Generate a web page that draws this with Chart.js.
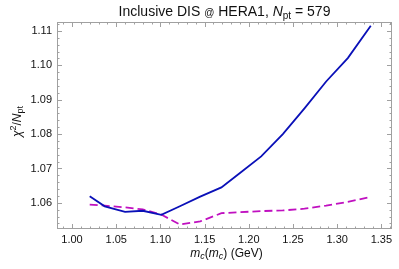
<!DOCTYPE html>
<html>
<head>
<meta charset="utf-8">
<script src="https://cdn.jsdelivr.net/npm/chart.js@4"></script>
<style>
  html, body { margin: 0; padding: 0; background: #fff; }
  #wrap { width: 399px; height: 269px; }
</style>
</head>
<body>
<div id="wrap"><canvas id="myChart" width="399" height="269"></canvas></div>
<script>
// m_c(m_c) values (GeV)
const masses = [1.020, 1.037, 1.060, 1.080, 1.101, 1.122, 1.145, 1.169, 1.190, 1.214, 1.2385, 1.263, 1.2875, 1.312, 1.338];
// chi2 / Npt, solid blue curve
const chi2Blue = [1.0619, 1.0590, 1.0574, 1.0577, 1.0565, 1.0590, 1.0618, 1.0645, 1.0687, 1.0735, 1.0800, 1.0875, 1.0953, 1.1021, 1.1115];
// chi2 / Npt, dashed magenta curve
const chi2Magenta = [1.0595, 1.0592, 1.0587, 1.0581, 1.0566, 1.0537, 1.0546, 1.0570, 1.0573, 1.0576, 1.0578, 1.0583, 1.0592, 1.0603, 1.0617];

const xTicks = [1.00, 1.05, 1.10, 1.15, 1.20, 1.25, 1.30, 1.35];
const yTicks = [1.06, 1.07, 1.08, 1.09, 1.10, 1.11];

const FONT = "'Liberation Sans', Arial, sans-serif";

// draw text made of several runs (normal / italic / subscript)
function drawRuns(ctx, runs, x, y, align) {
  let total = 0;
  runs.forEach(r => { ctx.font = r.font; r.w = ctx.measureText(r.t).width; total += r.w; });
  let cx = align === 'center' ? x - total / 2 : x;
  ctx.textBaseline = 'alphabetic';
  ctx.textAlign = 'left';
  runs.forEach(r => {
    ctx.font = r.font;
    ctx.fillText(r.t, cx, y + (r.dy || 0));
    cx += r.w;
  });
}

const framePlugin = {
  id: 'frame',
  afterDatasetsDraw(chart) {
    const { ctx, chartArea: a, scales } = chart;
    const xs = scales.x, ys = scales.y;
    ctx.save();
    ctx.strokeStyle = '#a0a0a0';
    ctx.lineWidth = 1;
    ctx.strokeRect(a.left + 0.5, a.top + 0.5, a.right - a.left - 1, a.bottom - a.top - 1);
    ctx.beginPath();
    // x ticks, inward on bottom and top
    for (let i = 99; i <= 136; i++) {
      const v = i / 100;
      const px = Math.round(xs.getPixelForValue(v)) + 0.5;
      const len = (i % 5 === 0) ? 5 : 2.5;
      ctx.moveTo(px, a.bottom); ctx.lineTo(px, a.bottom - len);
      ctx.moveTo(px, a.top); ctx.lineTo(px, a.top + len);
    }
    // y ticks, inward on left and right
    for (let i = 1054; i <= 1112; i += 2) {
      const v = i / 1000;
      const py = Math.round(ys.getPixelForValue(v)) + 0.5;
      const len = (i % 10 === 0) ? 5 : 2.5;
      ctx.moveTo(a.left, py); ctx.lineTo(a.left + len, py);
      ctx.moveTo(a.right, py); ctx.lineTo(a.right - len, py);
    }
    ctx.stroke();
    ctx.restore();
  },
  afterDraw(chart) {
    const { ctx, chartArea: a } = chart;
    ctx.save();
    ctx.fillStyle = '#111';
    // title
    drawRuns(ctx, [
      { t: 'Inclusive DIS ', font: `14px ${FONT}` },
      { t: '@', font: `10px ${FONT}` },
      { t: ' HERA1, ', font: `14px ${FONT}` },
      { t: 'N', font: `italic 14px ${FONT}` },
      { t: 'pt', font: `10px ${FONT}`, dy: 3 },
      { t: ' = 579', font: `14px ${FONT}` }
    ], (a.left + a.right) / 2, 16, 'center');
    // x axis title
    drawRuns(ctx, [
      { t: 'm', font: `italic 12px ${FONT}` },
      { t: 'c', font: `italic 9px ${FONT}`, dy: 2 },
      { t: '(', font: `12px ${FONT}` },
      { t: 'm', font: `italic 12px ${FONT}` },
      { t: 'c', font: `italic 9px ${FONT}`, dy: 2 },
      { t: ') (GeV)', font: `12px ${FONT}` }
    ], (a.left + a.right) / 2 + 2, 257, 'center');
    // y axis title, rotated
    ctx.translate(21, (a.top + a.bottom) / 2 - 4);
    ctx.rotate(-Math.PI / 2);
    drawRuns(ctx, [
      { t: 'χ', font: `italic 12px ${FONT}` },
      { t: '2', font: `9px ${FONT}`, dy: -5 },
      { t: '/', font: `12px ${FONT}` },
      { t: 'N', font: `italic 12px ${FONT}` },
      { t: 'pt', font: `9px ${FONT}`, dy: 2 }
    ], 0, 0, 'center');
    ctx.restore();
  }
};

const ctx = document.getElementById('myChart').getContext('2d');
const myChart = new Chart(ctx, {
  type: 'scatter',
  data: {
    datasets: [{
      label: 'blue',
      data: masses.map((m, i) => ({ x: m, y: chi2Blue[i] })),
      showLine: true,
      borderColor: '#0a10b8',
      borderWidth: 1.8,
      pointRadius: 0,
      tension: 0
    }, {
      label: 'magenta',
      data: masses.map((m, i) => ({ x: m, y: chi2Magenta[i] })),
      showLine: true,
      borderColor: '#c010c0',
      borderWidth: 1.8,
      borderDash: [8, 4],
      pointRadius: 0,
      tension: 0
    }]
  },
  options: {
    responsive: false,
    animation: false,
    layout: { padding: { left: 0, right: 7, top: 22, bottom: 0 } },
    plugins: {
      legend: { display: false },
      tooltip: { enabled: false }
    },
    scales: {
      x: {
        type: 'linear',
        min: 0.983,
        max: 1.362,
        afterBuildTicks: (s) => { s.ticks = xTicks.map(v => ({ value: v })); },
        afterFit: (s) => { s.height = 40; },
        grid: { display: false, drawTicks: false },
        border: { display: false },
        ticks: {
          padding: 4,
          color: '#111',
          font: { family: FONT, size: 11 },
          maxRotation: 0,
          autoSkip: false,
          callback: (v) => Number(v).toFixed(2)
        }
      },
      y: {
        type: 'linear',
        min: 1.0524,
        max: 1.1126,
        afterBuildTicks: (s) => { s.ticks = yTicks.map(v => ({ value: v })); },
        afterFit: (s) => { s.width = 57; },
        grid: { display: false, drawTicks: false },
        border: { display: false },
        ticks: {
          padding: 5,
          color: '#111',
          font: { family: FONT, size: 11 },
          autoSkip: false,
          callback: (v) => Number(v).toFixed(2)
        }
      }
    }
  },
  plugins: [framePlugin]
});
</script>
</body>
</html>
